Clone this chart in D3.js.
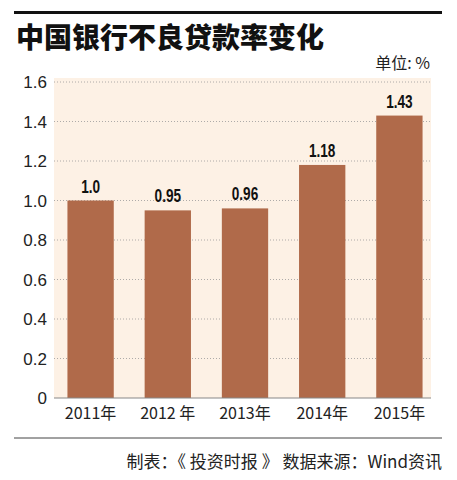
<!DOCTYPE html>
<html><head><meta charset="utf-8">
<script src="https://cdn.jsdelivr.net/npm/d3@7"></script>
<style>body{margin:0;background:#fff}</style>
</head><body>
<div id="chart"></div>
<script>
var years = ["2011年", "2012 年", "2013年", "2014年", "2015年"];
var rates = [1.0, 0.95, 0.96, 1.18, 1.43];
var rateLabels = ["1.0", "0.95", "0.96", "1.18", "1.43"];
var yTicks = [0, 0.2, 0.4, 0.6, 0.8, 1.0, 1.2, 1.4, 1.6];

var svg = d3.select("#chart").append("svg").attr("width", 457).attr("height", 480);
var font = "'Noto Sans CJK SC', 'Liberation Sans', sans-serif";

svg.append("rect").attr("x", 14).attr("y", 11).attr("width", 428).attr("height", 3).attr("fill", "#111");
svg.append("text").attr("x", 16).attr("y", 48).attr("font-family", font).attr("font-weight", "900")
    .attr("font-size", 28).attr("fill", "#111").text("中国银行不良贷款率变化");
svg.append("text").attr("x", 430).attr("y", 69).attr("text-anchor", "end").attr("font-family", font)
    .attr("font-size", 16).attr("fill", "#222").text("单位: %");

var x = d3.scaleBand().domain(years).range([52, 438]).paddingInner(0.4).paddingOuter(0.2);
var y = d3.scaleLinear().domain([0, 1.6]).range([398, 82]);

svg.append("rect").attr("x", 54).attr("y", 78).attr("width", 377).attr("height", 320).attr("fill", "#fdf1e5");

svg.selectAll(".grid").data(yTicks.slice(1)).enter().append("line")
    .attr("x1", 54).attr("x2", 431).attr("y1", d => y(d)).attr("y2", d => y(d))
    .attr("stroke", "#999").attr("stroke-width", 0.8).attr("stroke-dasharray", "1,2");

svg.selectAll(".ylab").data(yTicks).enter().append("text")
    .attr("x", 47).attr("y", d => y(d) + 6).attr("text-anchor", "end")
    .attr("font-family", "'Liberation Sans', sans-serif").attr("font-size", 17).attr("fill", "#222")
    .text(d => d === 0 ? "0" : d.toFixed(1));

svg.selectAll(".bar").data(rates).enter().append("rect")
    .attr("x", (d, i) => x(years[i])).attr("width", x.bandwidth())
    .attr("y", d => y(d)).attr("height", d => y(0) - y(d)).attr("fill", "#b06a4a");

svg.selectAll(".val").data(rates).enter().append("text")
    .attr("transform", (d, i) => "translate(" + (x(years[i]) + x.bandwidth() / 2) + "," + (y(d) - 8) + ") scale(0.8,1.1)")
    .attr("text-anchor", "middle").attr("font-family", "'Liberation Sans', sans-serif")
    .attr("font-weight", "bold").attr("font-size", 17).attr("fill", "#111")
    .text((d, i) => rateLabels[i]);

svg.append("line").attr("x1", 54).attr("x2", 431).attr("y1", 398).attr("y2", 398)
    .attr("stroke", "#888").attr("stroke-width", 1.2);

svg.selectAll(".xlab").data(years).enter().append("text")
    .attr("x", d => x(d) + x.bandwidth() / 2).attr("y", 419).attr("text-anchor", "middle")
    .attr("font-family", font).attr("font-size", 16).attr("fill", "#222").text(d => d);

svg.append("line").attr("x1", 14).attr("x2", 442).attr("y1", 438).attr("y2", 438)
    .attr("stroke", "#444").attr("stroke-width", 1);
svg.append("text").attr("x", 442).attr("y", 468).attr("text-anchor", "end").attr("font-family", font)
    .attr("font-size", 17).attr("fill", "#222").text("制表：《 投资时报 》 数据来源：Wind资讯");
</script>
</body></html>
